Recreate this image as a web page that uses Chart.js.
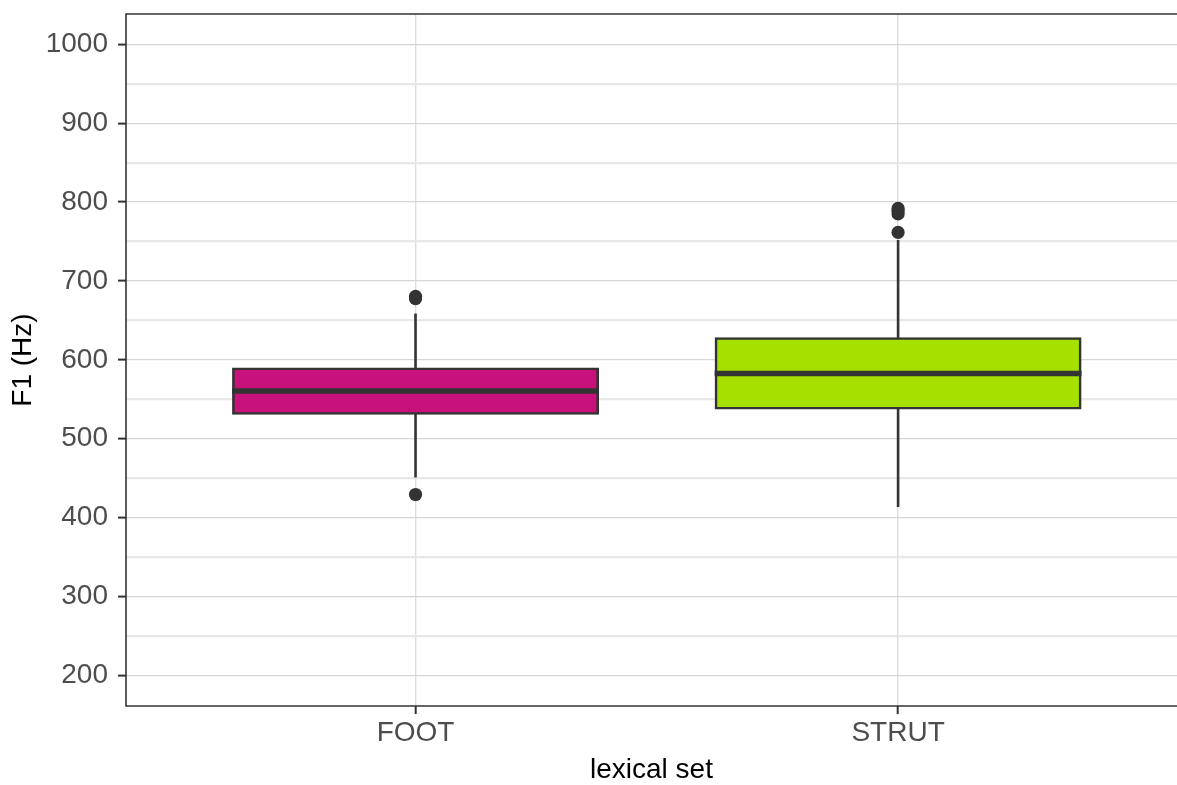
<!DOCTYPE html>
<html>
<head>
<meta charset="utf-8">
<script src="https://cdn.jsdelivr.net/npm/chart.js@4.4.1/dist/chart.umd.min.js"></script>
<style>
  html, body { margin: 0; padding: 0; background: #ffffff; overflow: hidden; }
  #wrap { width: 1177px; height: 785px; }
  canvas { display: block; }
</style>
</head>
<body>
<div id="wrap"><canvas id="c" width="1177" height="785"></canvas></div>
<script>
// ---- data ----
const categories = ['FOOT', 'STRUT'];
const categoryPositions = [1, 2];
const q1Values = [532, 538.5];
const medianValues = [560.5, 582.7];
const q3Values = [588.7, 627];
const whiskerLow = [450.8, 413.5];
const whiskerHigh = [658.8, 751.8];
const outlierValues = [[429.2, 677.5, 680.5], [761.5, 785, 788.5, 792]];
const boxColors = ['#C9117B', '#A6E000'];
const yTickValues = [200, 300, 400, 500, 600, 700, 800, 900, 1000];

// minor grid values halfway between major ticks
const yMinorValues = [];
for (let i = 0; i < yTickValues.length - 1; i++) {
  yMinorValues.push((yTickValues[i] + yTickValues[i + 1]) / 2);
}
const yAllTicks = yTickValues.concat(yMinorValues).sort((a, b) => a - b);

const boxData = categoryPositions.map((x, i) => ({ x: x, y: [q1Values[i], q3Values[i]] }));
const outlierData = [];
outlierValues.forEach((vals, i) => vals.forEach(v => outlierData.push({ x: categoryPositions[i], y: v })));

const INK = '#333333';
const isMajor = (c) => yTickValues.includes(c.tick && c.tick.value);

const boxPlugin = {
  id: 'boxExtras',
  afterDatasetsDraw(chart) {
    const ctx = chart.ctx;
    const xs = chart.scales.x, ys = chart.scales.y;
    const meta = chart.getDatasetMeta(0);
    ctx.save();
    ctx.strokeStyle = INK;
    ctx.lineCap = 'butt';
    categoryPositions.forEach((pos, i) => {
      const cx = xs.getPixelForValue(pos);
      // whiskers
      ctx.lineWidth = 2.6;
      ctx.beginPath();
      ctx.moveTo(cx, ys.getPixelForValue(q3Values[i]));
      ctx.lineTo(cx, ys.getPixelForValue(whiskerHigh[i]));
      ctx.moveTo(cx, ys.getPixelForValue(q1Values[i]));
      ctx.lineTo(cx, ys.getPixelForValue(whiskerLow[i]));
      ctx.stroke();
      // median
      const half = meta.data[i].width / 2 + 1.3;
      const my = ys.getPixelForValue(medianValues[i]);
      ctx.lineWidth = 5.5;
      ctx.beginPath();
      ctx.moveTo(cx - half, my);
      ctx.lineTo(cx + half, my);
      ctx.stroke();
    });
    ctx.restore();
  },
  afterDraw(chart) {
    const ctx = chart.ctx;
    const a = chart.chartArea;
    ctx.save();
    ctx.strokeStyle = INK;
    ctx.lineWidth = 1.6;
    ctx.beginPath();
    ctx.moveTo(a.right + 2, a.top);
    ctx.lineTo(a.left, a.top);
    ctx.lineTo(a.left, a.bottom);
    ctx.lineTo(a.right + 2, a.bottom);
    ctx.stroke();
    ctx.restore();
  }
};

const FONT = "'Liberation Sans', Arial, Helvetica, sans-serif";

new Chart(document.getElementById('c'), {
  data: {
    datasets: [
      {
        type: 'bar',
        data: boxData,
        backgroundColor: boxColors,
        borderColor: INK,
        borderWidth: 2.6,
        borderSkipped: false,
        inflateAmount: 1.3,
        categoryPercentage: 1,
        barPercentage: 0.755,
        order: 2
      },
      {
        type: 'scatter',
        data: outlierData,
        pointRadius: 6.6,
        pointBackgroundColor: INK,
        pointBorderWidth: 0,
        order: 1
      }
    ]
  },
  options: {
    responsive: false,
    devicePixelRatio: 1,
    animation: false,
    events: [],
    layout: { autoPadding: false, padding: { top: 14, left: 0, right: 0, bottom: 0 } },
    plugins: { legend: { display: false }, tooltip: { enabled: false } },
    scales: {
      x: {
        type: 'linear',
        offset: false,
        min: 0.4,
        max: 2.578,
        afterBuildTicks(scale) { scale.ticks = categoryPositions.map(v => ({ value: v })); },
        afterFit(scale) { scale.height = 79; scale.paddingLeft = 0; scale.paddingRight = 0; },
        grid: {
          offset: false,
          color: '#DEDEDE',
          lineWidth: 1.4,
          drawTicks: true,
          tickLength: 8,
          tickColor: INK,
          tickWidth: 2
        },
        border: { display: false },
        ticks: {
          autoSkip: false,
          maxRotation: 0,
          padding: 2,
          color: '#4D4D4D',
          font: { family: FONT, size: 28 },
          callback: (v) => categories[categoryPositions.indexOf(v)]
        },
        title: {
          display: true,
          text: 'lexical set',
          color: '#000000',
          font: { family: FONT, size: 28 },
          padding: { top: 0, bottom: -2 }
        }
      },
      y: {
        type: 'linear',
        min: 161,
        max: 1038.5,
        afterBuildTicks(scale) { scale.ticks = yAllTicks.map(v => ({ value: v })); },
        afterFit(scale) { scale.width = 126; scale.paddingTop = 0; scale.paddingBottom = 0; },
        grid: {
          color: (c) => isMajor(c) ? '#D6D6D6' : '#E8E8E8',
          lineWidth: (c) => isMajor(c) ? 1.2 : 2.2,
          drawTicks: true,
          tickLength: 8,
          tickColor: (c) => isMajor(c) ? INK : 'rgba(0,0,0,0)',
          tickWidth: 2
        },
        border: { display: false },
        ticks: {
          autoSkip: false,
          padding: 10,
          color: '#4D4D4D',
          font: { family: FONT, size: 28 },
          callback: (v) => yTickValues.includes(v) ? String(v) : ''
        },
        title: {
          display: true,
          text: 'F1 (Hz)',
          color: '#000000',
          font: { family: FONT, size: 28 },
          padding: { top: 6, bottom: 0 }
        }
      }
    }
  },
  plugins: [boxPlugin]
});
</script>
</body>
</html>
